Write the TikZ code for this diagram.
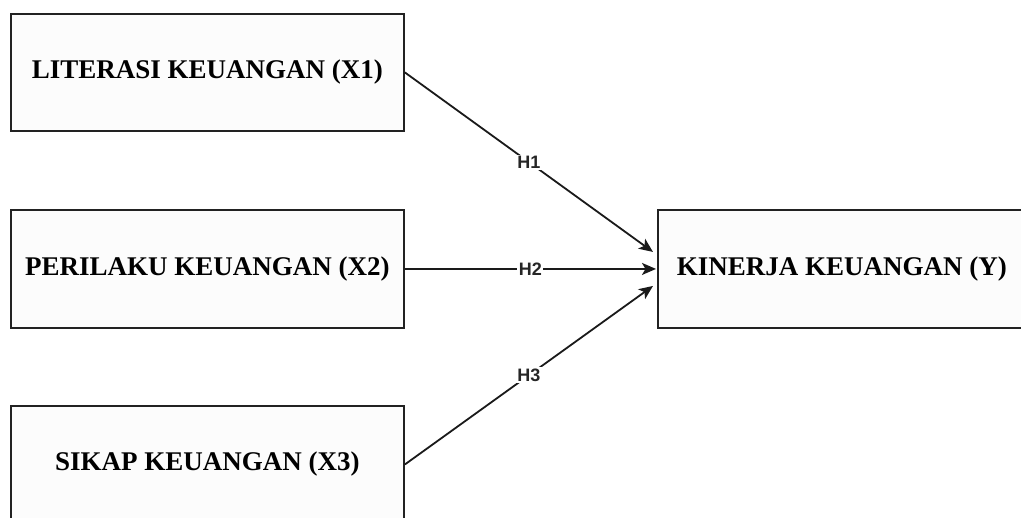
\documentclass[tikz,border=0pt]{standalone}
\usepackage{fontspec}
\setmainfont{Liberation Serif}
\newfontfamily\hfont{Liberation Sans}
\usetikzlibrary{arrows.meta,calc}
\definecolor{boxline}{HTML}{222222}
\definecolor{boxfill}{HTML}{FCFCFC}
\definecolor{edgecol}{HTML}{1A1A1A}
\tikzset{
  varbox/.style={draw=boxline, fill=boxfill, line width=1.9pt, inner sep=0pt,
    minimum height=117pt, anchor=north west,
    font=\fontsize{27}{30}\selectfont\bfseries},
  link/.style={draw=edgecol, line width=1.8pt, -{Stealth[length=14pt,width=12pt,inset=3.5pt]}},
  hlabel/.style={fill=white, inner sep=1.5pt, font=\hfont\bfseries\fontsize{18}{20}\selectfont, text=black!85}
}
\begin{document}
\begin{tikzpicture}[x=1pt,y=-1pt]
\useasboundingbox (0,0) rectangle (1021,518);
\clip (0,0) rectangle (1021,518);
\fill[white] (0,0) rectangle (1021,518);
\node[varbox, minimum width=393pt] (x1) at (10,13) {LITERASI KEUANGAN (X1)};
\node[varbox, minimum width=393pt, minimum height=118pt] (x2) at (10,209) {PERILAKU KEUANGAN (X2)};
\node[varbox, minimum width=393pt] (x3) at (10,405) {SIKAP KEUANGAN (X3)};
\node[varbox, minimum width=368pt, minimum height=118pt] (y) at (657,209) {KINERJA KEUANGAN (Y)};
\coordinate (t1) at ($(y.west)+(-4,-17)$);
\coordinate (t2) at ($(y.west)+(-1,0)$);
\coordinate (t3) at ($(y.west)+(-4,17)$);
\draw[link] (x1.east) -- node[hlabel] {H1} (t1);
\draw[link] (x2.east) -- node[hlabel] {H2} (t2);
\draw[link] (x3.east) -- node[hlabel] {H3} (t3);
\end{tikzpicture}
\end{document}
